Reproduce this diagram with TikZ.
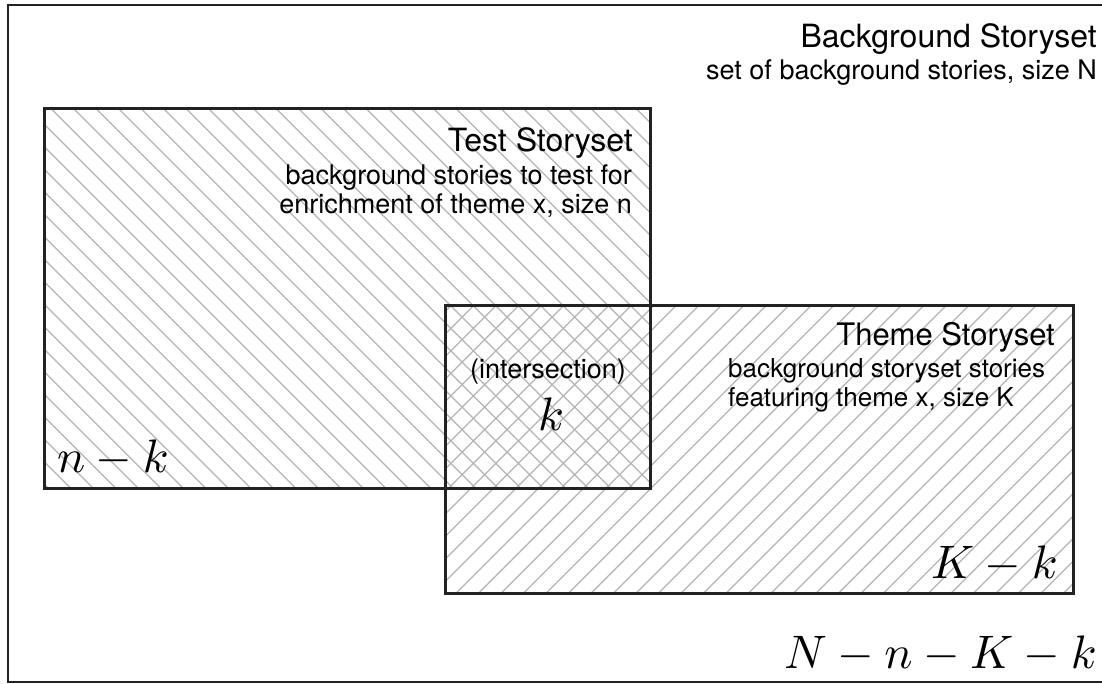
\documentclass[tikz,border=0pt]{standalone}
\usepackage{fontspec}
\setmainfont{TeX Gyre Heros}
\DeclareFontShape{OML}{cmm}{m}{it}{<->cmmi10}{}
\DeclareFontShape{OMS}{cmsy}{m}{n}{<->cmsy10}{}
\DeclareFontShape{OT1}{cmr}{m}{n}{<->cmr10}{}
\definecolor{boxc}{HTML}{222222}
\definecolor{hatchc}{HTML}{B4B4B4}
\begin{document}
\begin{tikzpicture}[x=1pt,y=-1pt,
  frame/.style={draw=boxc, line width=2.5pt},
  box/.style={draw=boxc, line width=3pt},
  hatch/.style={draw=hatchc, line width=1.2pt},
  ttl/.style={font=\fontsize{32}{38}\selectfont, inner sep=0pt},
  sub/.style={font=\fontsize{27}{29}\selectfont, inner sep=0pt},
  ttlb/.style={font=\fontsize{31}{37}\selectfont, inner sep=0pt},
  subb/.style={font=\fontsize{26}{29}\selectfont, inner sep=0pt},
  mth/.style={font=\fontsize{47}{52}\selectfont, inner sep=0pt}]
\useasboundingbox (0,0) rectangle (1102,684);
\fill[white] (0,0) rectangle (1102,684);
% corners
\coordinate (oa) at (8,5);    \coordinate (ob) at (1110,682);
\coordinate (ta) at (44,109); \coordinate (tb) at (650,488);
\coordinate (ha) at (445,306); \coordinate (hb) at (1073,593);
% hatch of test storyset
\begin{scope}
  \clip (ta) rectangle (tb);
  \foreach \c in {-550,-527.5,...,460}
    \draw[hatch] (-100,{\c-100}) -- (1200,{\c+1200});
\end{scope}
% hatch of theme storyset
\begin{scope}
  \clip (ha) rectangle (hb);
  \foreach \s in {734.2,756.7,...,1700}
    \draw[hatch] (300,{\s-300}) -- (1300,{\s-1300});
\end{scope}
% frames
\draw[frame] (oa) rectangle (ob);
\draw[box] (ta) rectangle (tb);
\draw[box] (ha) rectangle (hb);
% background texts
\node[ttl, anchor=base east] (bgt) at (1097,48) {Background Storyset};
\node[sub, anchor=base east] (bgs) at (1097,80) {set of background stories, size N};
% test texts
\node[ttl, anchor=base east] (tt) at (633,152) {Test Storyset};
\node[sub, anchor=base east] (ts1) at (632,185) {background stories to test for};
\node[sub, anchor=base east] (ts2) at (632,214) {enrichment of theme x, size n};
% theme texts
\node[ttlb, anchor=base east] (ht) at (1055,345) {Theme Storyset};
\node[subb, anchor=base west] (hs1) at (728,377) {background storyset stories};
\node[subb, anchor=base west] (hs2) at (728,406) {featuring theme x, size K};
% intersection
\node[sub, anchor=base] (it) at (548,378) {(intersection)};
\node[mth, anchor=base] (ik) at (551,430) {$k$};
% counts
\node[mth, anchor=base west] (nk) at (57,472) {$n-k$};
\node[mth, anchor=base east] (Kk) at (1058,578) {$K-k$};
\node[mth, anchor=base east] (rest) at (1097,668) {$N-n-K-k$};
\end{tikzpicture}
\end{document}
